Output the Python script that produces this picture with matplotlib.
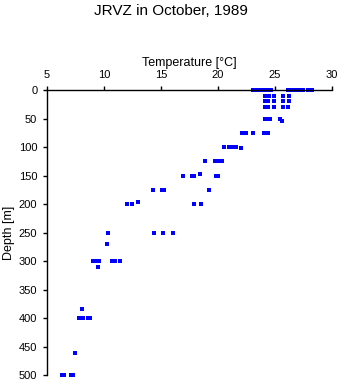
import matplotlib
matplotlib.use('Agg')
import matplotlib.pyplot as plt

plt.rcParams.update({
    'font.family': ['Liberation Sans', 'DejaVu Sans'],
    'font.size': 8,
})

# temperature readings (deg C) and their depths (m)
temp = [
    23.1, 23.3, 23.6, 23.9, 24.1, 24.4, 24.65, 26.1, 26.5, 26.8, 27.2, 27.5, 27.9, 28.25,
    24.1, 24.5, 24.9, 25.7, 26.2,
    24.1, 24.4, 24.9, 25.7, 26.2,
    24.1, 24.4, 24.9, 25.7, 26.1,
    24.1, 24.4, 24.6, 25.4, 25.6,
    22.1, 22.5, 23.1, 24.0, 24.4,
    20.5, 21.0, 21.3, 21.6, 22.0,
    18.9, 19.7, 20.0, 20.35,
    16.9, 17.7, 17.9, 18.4, 19.8, 20.0,
    14.3, 15.1, 15.3, 19.2,
    12.0, 12.5, 13.0, 17.9, 18.5,
    10.35, 14.4, 15.2, 16.05,
    10.3,
    9.0, 9.4, 9.6, 10.7, 10.95, 11.4,
    9.5,
    8.1,
    7.8, 8.0, 8.2, 8.6, 8.8,
    7.5,
    6.3, 6.5, 7.1, 7.3,
]
depth = [
    0, 0, 0, 0, 0, 0, 0, 0, 0, 0, 0, 0, 0, 0,
    10, 10, 10, 10, 10,
    20, 20, 20, 20, 20,
    30, 30, 30, 30, 30,
    50, 50, 50, 50, 55,
    75, 75, 75, 75, 75,
    100, 100, 100, 100, 102,
    125, 125, 125, 125,
    150, 150, 150, 148, 150, 150,
    175, 175, 175, 175,
    200, 200, 197, 200, 200,
    250, 250, 250, 250,
    270,
    300, 300, 300, 300, 300, 300,
    310,
    385,
    400, 400, 400, 400, 400,
    462,
    500, 500, 500, 500,
]

x_ticks = [5, 10, 15, 20, 25, 30]
y_ticks = [0, 50, 100, 150, 200, 250, 300, 350, 400, 450, 500]

fig = plt.figure(figsize=(3.41, 3.84), dpi=100)
ax = fig.add_axes([0.1378, 0.0234, 0.8358, 0.7422])

ax.plot(temp, depth, 's', color='#0000ff', markersize=2.4, markeredgewidth=0,
        clip_on=False)

ax.set_xlim(5, 30)
ax.set_ylim(500, 0)
ax.set_xticks(x_ticks)
ax.set_yticks(y_ticks)

ax.xaxis.tick_top()
ax.xaxis.set_label_position('top')
ax.spines['right'].set_visible(False)
ax.spines['bottom'].set_visible(False)
ax.spines['top'].set_linewidth(1.0)
ax.spines['left'].set_linewidth(1.0)
ax.tick_params(direction='out', length=3, width=1.0, pad=4)

ax.set_xlabel('Temperature [°C]', fontsize=9, labelpad=3)
ax.set_ylabel('Depth [m]', fontsize=9, labelpad=3)
fig.suptitle('JRVZ in October, 1989', y=0.99, fontsize=11)

fig.savefig('out.png', dpi=100)
